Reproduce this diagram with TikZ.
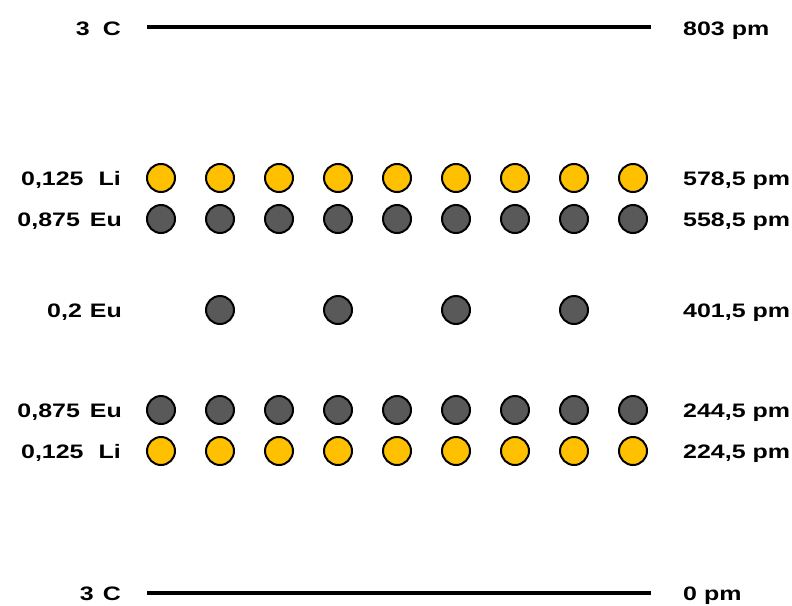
\documentclass[tikz,border=0pt]{standalone}
\usepackage{fontspec}
\setmainfont{Liberation Sans}[FakeStretch=1.28]
\definecolor{liyellow}{HTML}{FFC000}
\definecolor{eugray}{HTML}{595959}
\begin{document}
\begin{tikzpicture}[x=1pt,y=-1pt,
    atom/.style={circle,draw=black,line width=2pt,minimum size=28pt,inner sep=0pt},
    li/.style={atom,fill=liyellow},
    eu/.style={atom,fill=eugray},
    lbl/.style={inner sep=0pt,font=\fontsize{19.5}{22}\bfseries\selectfont},
    layer/.style={line width=4.5pt}]
    \useasboundingbox (0,0) rectangle (792,605);

    % graphite layers
    \coordinate (ctopl) at (147,27);  \coordinate (ctopr) at (651,27);
    \coordinate (cbotl) at (147,593); \coordinate (cbotr) at (651,593);
    \draw[layer] (ctopl) -- (ctopr);
    \draw[layer] (cbotl) -- (cbotr);

    % full rows
    \foreach \i in {0,...,8} {
        \node[li] (litop\i) at (161+59*\i,178) {};
        \node[eu] (eutop\i) at (161+59*\i,219) {};
        \node[eu] (eubot\i) at (161+59*\i,410) {};
        \node[li] (libot\i) at (161+59*\i,451) {};
    }
    % middle row
    \foreach \i in {1,3,5,7}
        \node[eu] (eumid\i) at (161+59*\i,310) {};

    % left labels
    \node[lbl,anchor=base east] (ltop)   at (121,35)  {3\hspace{13pt}C};
    \node[lbl,anchor=base east] (llitop) at (121,185) {0,125\hspace{15pt}Li};
    \node[lbl,anchor=base east] (leutop) at (122,226) {0,875\hspace{10pt}Eu};
    \node[lbl,anchor=base east] (leumid) at (122,317) {0,2\hspace{8pt}Eu};
    \node[lbl,anchor=base east] (leubot) at (122,417) {0,875\hspace{10pt}Eu};
    \node[lbl,anchor=base east] (llibot) at (121,458) {0,125\hspace{15pt}Li};
    \node[lbl,anchor=base east] (lbot)   at (121,600) {3\hspace{9pt}C};

    % right labels
    \node[lbl,anchor=base west] (rtop)   at (683,35)  {803 pm};
    \node[lbl,anchor=base west] (rlitop) at (683,185) {578,5 pm};
    \node[lbl,anchor=base west] (reutop) at (683,226) {558,5 pm};
    \node[lbl,anchor=base west] (reumid) at (683,317) {401,5 pm};
    \node[lbl,anchor=base west] (reubot) at (683,417) {244,5 pm};
    \node[lbl,anchor=base west] (rlibot) at (683,458) {224,5 pm};
    \node[lbl,anchor=base west] (rbot)   at (683,600) {0 pm};
\end{tikzpicture}
\end{document}
